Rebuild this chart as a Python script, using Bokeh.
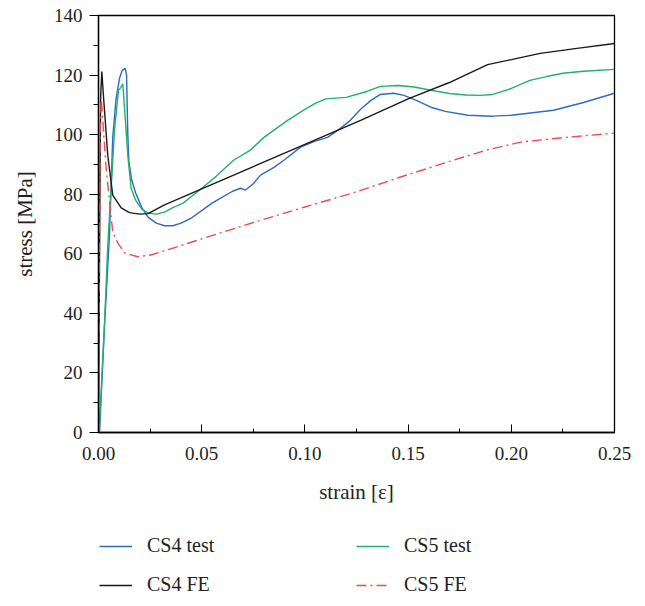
from bokeh.plotting import figure
from bokeh.layouts import column
from bokeh.models import Legend, LegendItem, FixedTicker, NumeralTickFormatter, Range1d
from bokeh.embed import file_html
from bokeh.resources import INLINE

# ---- data ----
cs4_test_x = [0, 0.0005, 0.003, 0.0053, 0.0069, 0.0085, 0.0102, 0.0115, 0.0129, 0.0136, 0.0142, 0.0147,
              0.016, 0.018, 0.021, 0.024, 0.028, 0.032, 0.036, 0.04, 0.045, 0.05, 0.055, 0.06, 0.065,
              0.0688, 0.0712, 0.075, 0.0785, 0.085, 0.09, 0.0979, 0.105, 0.111, 0.116, 0.122, 0.127,
              0.132, 0.1366, 0.143, 0.148, 0.154, 0.161, 0.168, 0.179, 0.191, 0.2, 0.2205, 0.235, 0.25]
cs4_test_y = [0, 0, 37, 66, 99, 112, 119, 121.5, 122.3, 120, 100, 91,
              85, 80.4, 75.5, 72.3, 70.3, 69.4, 69.4, 70.3, 72, 74.5, 77, 79, 81,
              82, 81.4, 83.5, 86.4, 89, 91.5, 95.8, 97.8, 99.1, 101.5, 104.8, 108.5,
              111.5, 113.5, 113.9, 113.2, 111.5, 109.2, 107.8, 106.5, 106.2, 106.5, 108.2, 110.8, 113.9]

cs5_test_x = [0, 0.0003, 0.003, 0.0045, 0.0078, 0.0097, 0.0105, 0.0118, 0.0125, 0.0142, 0.0158, 0.018,
              0.021, 0.024, 0.028, 0.032, 0.036, 0.041, 0.049, 0.057, 0.0654, 0.0736, 0.08, 0.0916,
              0.1, 0.105, 0.11, 0.12, 0.13, 0.1366, 0.145, 0.153, 0.161, 0.17, 0.178, 0.185, 0.191,
              0.2, 0.209, 0.217, 0.225, 0.235, 0.25]
cs5_test_y = [0, 0, 38, 63, 102, 115, 115.5, 117, 110, 93, 82, 78,
              75, 73.7, 73.3, 74, 75.5, 77, 81.4, 86, 91.4, 94.8, 99, 104.8,
              108.5, 110.5, 112, 112.5, 114.5, 116.2, 116.5, 116, 114.9, 113.8, 113.3, 113.2, 113.5,
              115.5, 118.2, 119.5, 120.6, 121.3, 121.9]

cs4_fe_x = [0, 0.0005, 0.001, 0.0016, 0.0025, 0.0045, 0.0069, 0.011, 0.015, 0.02, 0.024, 0.032,
            0.05, 0.1, 0.127, 0.15, 0.17, 0.1885, 0.2, 0.214, 0.23, 0.25]
cs4_fe_y = [0, 60, 112, 121.2, 112, 93, 79.7, 75.4, 73.8, 73.3, 73.5, 76.4,
            81.8, 96.7, 104.8, 112, 117.5, 123.5, 125.2, 127.3, 128.8, 130.6]

cs5_fe_x = [0, 0.0004, 0.0008, 0.0013, 0.0037, 0.0069, 0.0094, 0.0126, 0.019, 0.0252, 0.032, 0.05,
            0.075, 0.1, 0.125, 0.146, 0.17, 0.188, 0.2045, 0.225, 0.25]
cs5_fe_y = [0, 55, 100, 112.6, 88.7, 67.3, 63.6, 60.3, 59, 59.6, 61, 65,
            70.5, 75.7, 80.8, 85.7, 91, 94.8, 97.5, 99, 100.5]

series_labels = ["CS4 test", "CS5 test", "CS4 FE", "CS5 FE"]
x_ticks = [0, 0.05, 0.10, 0.15, 0.20, 0.25]
x_minor = [0.025, 0.075, 0.125, 0.175, 0.225]
y_ticks = [0, 20, 40, 60, 80, 100, 120, 140]
y_minor = [10, 30, 50, 70, 90, 110, 130]

FONT = "Liberation Serif"
TXT = "#231f20"
STYLES = [dict(line_color="#2d6bc0", line_width=1.4),
          dict(line_color="#1fb26e", line_width=1.4),
          dict(line_color="#1a1a1a", line_width=1.4),
          dict(line_color="#ef4b4b", line_width=1.4, line_dash="10 4 2 4")]
XS = [cs4_test_x, cs5_test_x, cs4_fe_x, cs5_fe_x]
YS = [cs4_test_y, cs5_test_y, cs4_fe_y, cs5_fe_y]

p = figure(width=645, height=506, output_backend="svg", toolbar_location=None,
           x_range=Range1d(0, 0.25), y_range=Range1d(0, 140),
           min_border_left=98, min_border_right=31, min_border_top=15, min_border_bottom=73)
p.background_fill_color = "white"
p.border_fill_color = "white"
p.grid.visible = False
p.outline_line_color = "black"
p.outline_line_width = 1.3

for xs, ys, st in zip(XS, YS, STYLES):
    p.line(xs, ys, **st)

xa = p.xaxis[0]
xa.ticker = FixedTicker(ticks=x_ticks, minor_ticks=x_minor)
xa.formatter = NumeralTickFormatter(format="0.00")
xa.axis_label = "strain [ε]"
xa.major_tick_in = 8
xa.major_tick_out = 0
xa.minor_tick_in = 4
xa.minor_tick_out = 0
xa.major_label_standoff = 14
xa.axis_label_standoff = 17

ya = p.yaxis[0]
ya.ticker = FixedTicker(ticks=y_ticks, minor_ticks=y_minor)
ya.axis_label = "stress [MPa]"
ya.major_tick_in = 0
ya.major_tick_out = 9
ya.minor_tick_in = 0
ya.minor_tick_out = 5
ya.major_label_standoff = 7
ya.axis_label_standoff = 14

for ax in (xa, ya):
    ax.axis_line_color = "black"
    ax.axis_line_width = 1.3
    ax.major_tick_line_color = "black"
    ax.minor_tick_line_color = "black"
    ax.major_label_text_font = FONT
    ax.major_label_text_font_size = "19px"
    ax.major_label_text_color = TXT
    ax.axis_label_text_font = FONT
    ax.axis_label_text_font_size = "21px"
    ax.axis_label_text_font_style = "normal"
    ax.axis_label_text_color = TXT

# legend strip below the plot (its own ranges keep the copies of the lines out of view)
lf = figure(width=645, height=100, output_backend="svg", toolbar_location=None,
            x_range=Range1d(10, 11), y_range=Range1d(1000, 1001),
            x_axis_type=None, y_axis_type=None, min_border=0)
lf.grid.visible = False
lf.outline_line_color = None
lf.background_fill_color = "white"
lf.border_fill_color = "white"
items = []
for lab, xs, ys, st in zip(series_labels, XS, YS, STYLES):
    r = lf.line(xs, ys, **st)
    items.append(LegendItem(label=lab, renderers=[r]))

legend = Legend(items=items, ncols=2, location=(1, 10), orientation="horizontal")
legend.border_line_color = None
legend.background_fill_alpha = 0
legend.label_text_font = FONT
legend.label_text_font_size = "20px"
legend.label_text_color = TXT
legend.glyph_width = 33
legend.glyph_height = 22
legend.label_height = 22
legend.label_standoff = 15
legend.label_width = 193
legend.spacing = 16
legend.padding = 0
legend.margin = 0
lf.add_layout(legend, "center")

layout = column(p, lf, spacing=0)
open("out.html", "w").write(file_html(layout, INLINE))
